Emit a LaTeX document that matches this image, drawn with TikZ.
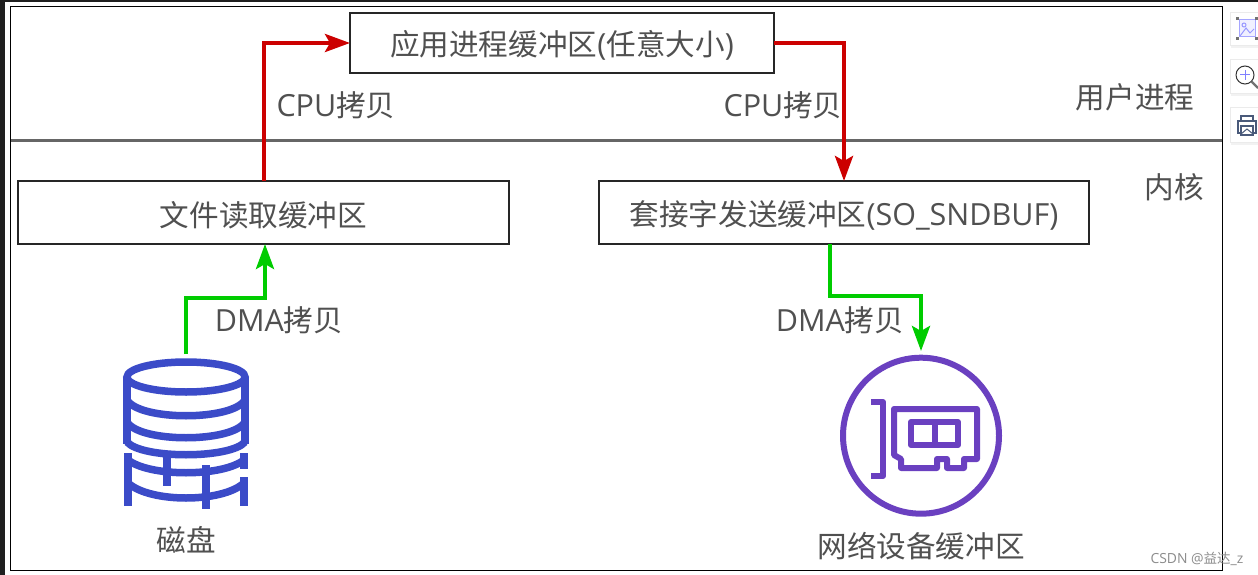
\documentclass[tikz,border=0pt]{standalone}
\usepackage{fontspec}
\setmainfont{Noto Sans CJK SC}
\newfontfamily\latinf{Open Sans}[Scale=1.03]
\usetikzlibrary{arrows.meta}
\newcommand{\lowertxt}[1]{\raisebox{-1.3pt}[\dimexpr\height+1.3pt\relax][\dimexpr\depth-1.3pt\relax]{#1}}
\definecolor{txt}{HTML}{505050}
\definecolor{diskblue}{HTML}{3B4BC8}
\definecolor{nicpurple}{HTML}{6A40C0}
\definecolor{redline}{HTML}{CC0000}
\definecolor{greenline}{HTML}{00CC00}
\definecolor{iconslate}{HTML}{4A5A7A}
\tikzset{
  x=1pt,y=-1pt,
  bufbox/.style={draw=black!85,line width=2.4pt,outer sep=0pt,fill=white,inner sep=0pt,text=txt,font=\fontsize{29.6}{32}\selectfont,anchor=north west},
  lab/.style={text=txt,font=\fontsize{29.6}{32}\selectfont,inner sep=0pt},
  redarrow/.style={draw=redline,line width=4pt,-{Stealth[length=25pt,width=18pt,inset=5pt]}},
  greenarrow/.style={draw=greenline,line width=4pt,-{Stealth[length=25pt,width=18pt,inset=5pt]}},
  diskline/.style={draw=diskblue,line width=7.5pt},
  nicline/.style={draw=nicpurple,line width=6pt,line join=round},
  btn/.style={draw=black!8,fill=white,line width=1pt},
}
\begin{document}
\begin{tikzpicture}
\useasboundingbox (0,0) rectangle (1258,575);
\fill[white] (0,0) rectangle (1258,575);
\fill[black!88] (0,0) rectangle (5,575);
\fill[black!88] (0,0) rectangle (1258,2);
\draw[black,line width=1.6pt] (10.5,6.5) rectangle (1222.5,570.5);
\draw[black!60,line width=2.6pt] (11,140.5) -- (1222,140.5);

% boxes
\node[bufbox,minimum width=424pt,minimum height=60pt] (app) at (350,13) {\lowertxt{应用进程缓冲区{\latinf(}任意大小{\latinf)}}};
\node[bufbox,minimum width=491pt,minimum height=63pt] (file) at (18,181) {\lowertxt{文件读取缓冲区}};
\node[bufbox,minimum width=490pt,minimum height=63pt] (sock) at (599,181) {\lowertxt{套接字发送缓冲区{\latinf(SO\_SNDBUF)}}};
\coordinate (sockout) at (830,244);
\coordinate (fileout) at (265,244);
\node[inner sep=0pt,outer sep=0pt,minimum width=126pt,minimum height=154pt,anchor=north] (disk) at (186,354) {};
\node[inner sep=0pt,outer sep=0pt,minimum size=162pt,circle,anchor=north] (nic) at (921,351) {};

% connectors
\draw[redarrow] (file.north) |- (app.west);
\draw[redarrow] (app.east) -| (sock.north);
\coordinate (d1) at (186,298);
\draw[greenarrow] (disk.north) -- (d1) -| (fileout);
\coordinate (n1) at (830,296);
\draw[greenarrow] (sockout) -- (n1) -| (nic.north);

% labels
\node[lab] (l1) at (336,105) {{\latinf CPU}拷贝};
\node[lab] (l2) at (783,105) {{\latinf CPU}拷贝};
\node[lab] (l3) at (279,320) {{\latinf DMA}拷贝};
\node[lab] (l4) at (840,320) {{\latinf DMA}拷贝};
\node[lab] (l5) at (1135,97) {用户进程};
\node[lab] (l6) at (1174,187) {内核};
\node[lab] (l7) at (186,540) {磁盘};
\node[lab] (l8) at (921,546) {网络设备缓冲区};
\node[text=black!45,font=\fontsize{13.5}{15}\selectfont,inner sep=0pt] (wm) at (1197,558.5) {{\latinf CSDN @}益达{\latinf\_z}};

% disk icon
\draw[diskline] (186,377) ellipse [x radius=59,y radius=15];
\draw[diskline] (127,377) -- (127,444);
\draw[diskline] (245,377) -- (245,444);
\draw[diskline] (127,400) .. controls (140,421) and (232,421) .. (245,400);
\draw[diskline] (127,422) .. controls (140,443) and (232,443) .. (245,422);
\draw[diskline] (127,442) .. controls (142,459) and (230,459) .. (245,442);
\draw[diskline] (128,453) -- (128,506);
\draw[diskline] (244,453) -- (244,469);
\draw[diskline] (244,477) -- (244,506);
\draw[diskline] (128,460) .. controls (150,477) and (222,477) .. (244,460);
\draw[diskline] (128,483) .. controls (150,503) and (222,503) .. (244,483);
\draw[diskline] (167,455) -- (167,486);
\draw[diskline] (206,465) -- (206,509);

% network card icon
\draw[nicline] (921,435.7) circle [radius=78];
\draw[nicline] (871,402) -- (883,402) -- (883,476) -- (871,476);
\draw[nicline] (894,409) -- (977,409) -- (977,459) -- (964,459) -- (964,468) -- (947,468) -- (947,459) -- (937,459) -- (937,468) -- (901,468) -- (901,459) -- (894,455) -- cycle;
\draw[nicline] (911,422) rectangle (958,445);
\draw[nicline] (935,422) -- (935,445);

% side buttons
\fill[black!5] (1231,15) rectangle (1258,48);
\fill[black!5] (1231,63) rectangle (1258,96);
\fill[black!5] (1231,111) rectangle (1258,145);
\draw[btn] (1230,13) rectangle (1259,46);
\draw[btn] (1230,60) rectangle (1259,94);
\draw[btn] (1230,108) rectangle (1259,143);
% image icon
\draw[draw=blue!35,fill=blue!6,line width=1pt] (1239,20) rectangle (1255,37);
\draw[blue!40,line width=1pt] (1240,36) -- (1246,28) -- (1250,33) -- (1254,29);
\draw[blue!40,line width=1pt] (1244,25) circle [radius=2];
\fill[black!55] (1236,17) rectangle (1239,20);
\fill[black!55] (1255,17) rectangle (1258,20);
\fill[black!55] (1236,37) rectangle (1239,40);
\fill[black!55] (1255,37) rectangle (1258,40);
% magnifier icon
\draw[black!80,line width=1pt] (1245,75) circle [radius=9];
\draw[black!55,line width=2.2pt] (1251.5,81.5) -- (1258,88);
\draw[blue!50,line width=1pt] (1240,75) -- (1250,75) (1245,70) -- (1245,80);
% print icon
\draw[iconslate,line width=1.2pt] (1241,121) -- (1241,116) -- (1253,116) -- (1253,121);
\draw[iconslate,line width=1.2pt] (1241,133) -- (1238,133) -- (1238,121) -- (1256,121) -- (1256,133) -- (1253,133);
\draw[iconslate,line width=1.2pt] (1241,126) rectangle (1253,135);
\draw[iconslate,line width=1pt] (1241,134) -- (1247,129) -- (1253,134);
\end{tikzpicture}
\end{document}
